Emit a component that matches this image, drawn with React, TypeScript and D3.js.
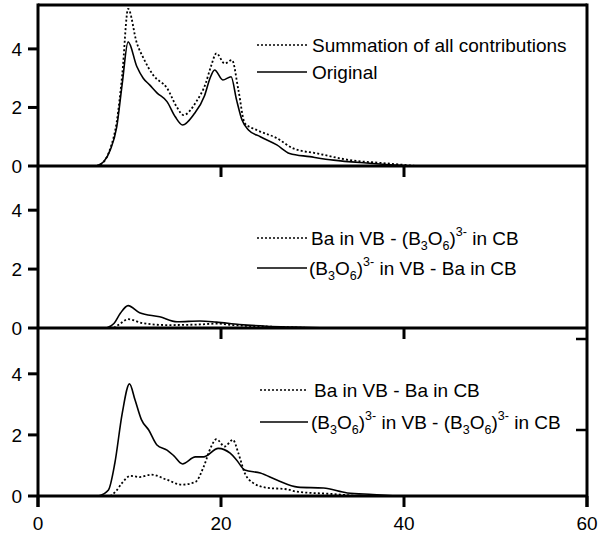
import React from "react";
import * as d3 from "d3";

// ---- data (energy in eV, intensity) ----
const p1OrigX = [6.4, 7.2, 7.9, 8.6, 9.2, 9.85, 10.8, 11.5, 12.2, 13.0, 14.1, 15.0, 15.8, 17.0, 18.2, 18.8, 19.3, 20.2, 21.1, 21.7, 22.3, 23.0, 24.3, 26.1, 27.5, 29.7, 32.3, 35.9, 39.6, 41];
const p1OrigY = [0, 0.15, 0.55, 1.33, 2.8, 4.24, 3.4, 3.0, 2.77, 2.5, 2.2, 1.68, 1.4, 1.75, 2.4, 3.0, 3.28, 2.94, 3.05, 2.26, 1.57, 1.23, 1.0, 0.72, 0.43, 0.32, 0.2, 0.1, 0.02, 0];
const p1SumX = [6.4, 7.2, 7.9, 8.6, 9.2, 9.85, 10.8, 11.5, 12.6, 14.1, 15.2, 15.9, 17.3, 18.3, 18.9, 19.5, 20.4, 21.2, 21.9, 22.6, 23.9, 26.1, 27.9, 30.5, 34.1, 37.7, 41.4];
const p1SumY = [0, 0.15, 0.6, 1.5, 3.1, 5.37, 4.2, 3.7, 3.1, 2.66, 2.0, 1.74, 2.2, 2.8, 3.4, 3.85, 3.5, 3.62, 2.6, 1.46, 1.23, 0.95, 0.6, 0.43, 0.2, 0.1, 0];

const p2SolidX = [7.5, 8.3, 9.0, 9.85, 11.1, 13.3, 15.2, 17.7, 19.5, 22, 25, 28, 31.9];
const p2SolidY = [0, 0.15, 0.5, 0.76, 0.52, 0.38, 0.21, 0.24, 0.2, 0.12, 0.06, 0.03, 0];
const p2DotX = [8.3, 9.0, 9.85, 11.5, 14.1, 17.7, 19.5, 21.3, 25, 30];
const p2DotY = [0, 0.15, 0.3, 0.16, 0.1, 0.12, 0.15, 0.1, 0.05, 0];

const p3SolidX = [6.6, 7.7, 8.4, 9.2, 10.0, 10.6, 11.3, 12.1, 13.0, 14.1, 14.8, 15.8, 17.2, 18.1, 19.7, 21.0, 21.7, 22.6, 24.3, 26.1, 28.4, 31.2, 33.8, 36.6, 39.2];
const p3SolidY = [0, 0.2, 1.08, 2.7, 3.67, 3.15, 2.5, 2.16, 1.67, 1.5, 1.33, 1.05, 1.28, 1.28, 1.56, 1.4, 1.18, 0.85, 0.75, 0.52, 0.29, 0.26, 0.1, 0.05, 0];
const p3DotX = [7.9, 8.5, 9.2, 10.1, 11.1, 12.4, 14.1, 15.7, 17.2, 18.1, 18.9, 19.5, 20.4, 21.3, 21.9, 22.6, 23.5, 25.0, 27.2, 28.3, 31.9, 35];
const p3DotY = [0, 0.15, 0.43, 0.66, 0.62, 0.7, 0.53, 0.37, 0.46, 0.95, 1.6, 1.86, 1.62, 1.84, 1.4, 0.75, 0.43, 0.27, 0.22, 0.14, 0.07, 0];

const xTicks = [0, 20, 40, 60];
const yTicks = [0, 2, 4];

const FONT = "'Liberation Sans', Arial, Helvetica, sans-serif";

type Pt = [number, number];
const zip = (xs: number[], ys: number[]): Pt[] => xs.map((x, i) => [x, ys[i]]);

export default function App() {
  const W = 600, H = 537;
  const left = 38, right = 587;
  const x = d3.scaleLinear().domain([0, 60]).range([left, right]);
  const panels = [
    { top: 5, bottom: 166 },
    { top: 166, bottom: 328 },
    { top: 328, bottom: 496 },
  ];
  const ys = panels.map((p) => d3.scaleLinear().domain([0, 5.5]).range([p.bottom, p.top]));

  const mkLine = (y: d3.ScaleLinear<number, number>) =>
    d3.line<Pt>().x((d) => x(d[0])).y((d) => y(d[1])).curve(d3.curveMonotoneX);

  const series = [
    { panel: 0, pts: zip(p1SumX, p1SumY), dotted: true },
    { panel: 0, pts: zip(p1OrigX, p1OrigY), dotted: false },
    { panel: 1, pts: zip(p2DotX, p2DotY), dotted: true },
    { panel: 1, pts: zip(p2SolidX, p2SolidY), dotted: false },
    { panel: 2, pts: zip(p3DotX, p3DotY), dotted: true },
    { panel: 2, pts: zip(p3SolidX, p3SolidY), dotted: false },
  ];

  const SUB = 12.5;
  const B3O6 = (key: string) => [
    <tspan key={key + "a"}>(B</tspan>,
    <tspan key={key + "b"} fontSize={SUB} dy={5}>3</tspan>,
    <tspan key={key + "c"} dy={-5}>O</tspan>,
    <tspan key={key + "d"} fontSize={SUB} dy={5}>6</tspan>,
    <tspan key={key + "e"} dy={-5}>)</tspan>,
    <tspan key={key + "f"} fontSize={SUB} dy={-9}>3-</tspan>,
    <tspan key={key + "g"} dy={9}> </tspan>,
  ];

  const legends = [
    { y: 45, x0: 257, x1: 307, tx: 312, dotted: true, label: [<tspan key="s">Summation of all contributions</tspan>] },
    { y: 72, x0: 257, x1: 307, tx: 312, dotted: false, label: [<tspan key="o">Original</tspan>] },
    { y: 238, x0: 257, x1: 307, tx: 311, dotted: true, label: [<tspan key="p">Ba in VB - </tspan>, ...B3O6("l1"), <tspan key="q">in CB</tspan>] },
    { y: 268, x0: 257, x1: 307, tx: 309, dotted: false, label: [...B3O6("l2"), <tspan key="r">in VB - Ba in CB</tspan>] },
    { y: 390, x0: 260, x1: 308, tx: 314, dotted: true, label: [<tspan key="t">Ba in VB - Ba in CB</tspan>] },
    { y: 422, x0: 260, x1: 308, tx: 311, dotted: false, label: [...B3O6("l3"), <tspan key="u">in VB - </tspan>, ...B3O6("l4"), <tspan key="v">in CB</tspan>] },
  ];

  return (
    <svg width={W} height={H} style={{ position: "absolute", left: 0, top: 0 }} fontFamily={FONT}>
      <rect width={W} height={H} fill="#fff" />
      {/* curves */}
      {series.map((s, i) => (
        <path
          key={i}
          d={mkLine(ys[s.panel])(s.pts) || ""}
          fill="none"
          stroke="#000"
          strokeWidth={s.dotted ? 1.8 : 1.6}
          strokeDasharray={s.dotted ? "2,2.2" : undefined}
        />
      ))}
      {/* frame */}
      <line x1={left} x2={right} y1={panels[0].top} y2={panels[0].top} stroke="#000" strokeWidth={3} />
      <line x1={left} x2={left} y1={panels[0].top - 1.5} y2={panels[2].bottom + 11} stroke="#000" strokeWidth={3} />
      <line x1={right} x2={right} y1={panels[0].top - 1.5} y2={panels[2].bottom + 11} stroke="#000" strokeWidth={3} />
      {panels.map((p, i) => (
        <line key={"b" + i} x1={left} x2={right} y1={p.bottom} y2={p.bottom} stroke="#000" strokeWidth={3} />
      ))}
      {/* x ticks */}
      {panels.map((p, i) =>
        xTicks
          .filter((t) => i === 2 || (t > 0 && t < 60))
          .map((t) => (
            <line key={"xt" + i + t} x1={x(t)} x2={x(t)} y1={p.bottom} y2={p.bottom + 11} stroke="#000" strokeWidth={3} />
          ))
      )}
      {xTicks.map((t) => (
        <text key={"xl" + t} x={x(t)} y={panels[2].bottom + 34} textAnchor="middle" fontSize={19}>
          {t}
        </text>
      ))}
      {/* y ticks */}
      {ys.map((y, i) =>
        yTicks.map((t) => (
          <g key={"yt" + i + t}>
            <line x1={left - 10} x2={left} y1={y(t)} y2={y(t)} stroke="#000" strokeWidth={3} />
            <text x={left - 16} y={y(t) + 7} textAnchor="end" fontSize={19}>
              {t}
            </text>
          </g>
        ))
      )}
      {/* stray right ticks */}
      {[339, 430].map((yy) => (
        <line key={"rt" + yy} x1={right - 11} x2={right} y1={yy} y2={yy} stroke="#000" strokeWidth={2.5} />
      ))}
      {/* legends */}
      {legends.map((l, i) => (
        <g key={"lg" + i}>
          <line
            x1={l.x0}
            x2={l.x1}
            y1={l.y}
            y2={l.y}
            stroke="#000"
            strokeWidth={l.dotted ? 1.5 : 1.6}
            strokeDasharray={l.dotted ? "2,2" : undefined}
          />
          <text x={l.tx} y={l.y + 7} fontSize={19}>
            {l.label}
          </text>
        </g>
      ))}
    </svg>
  );
}
